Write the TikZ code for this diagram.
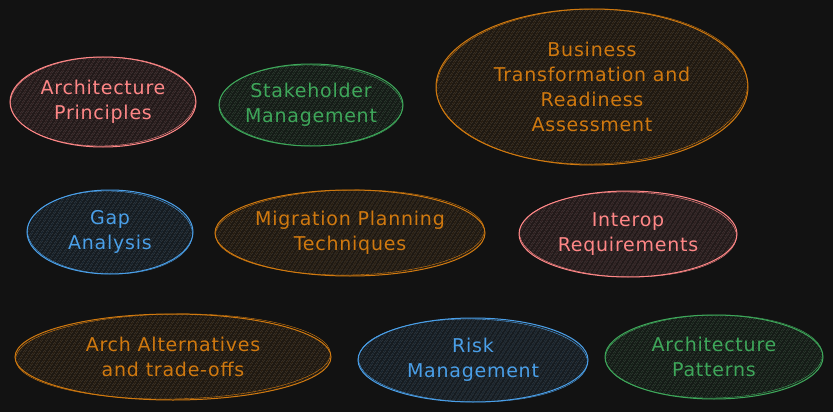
\documentclass[tikz,border=0pt]{standalone}
\usepackage{fontspec}
\setmainfont[LetterSpace=4]{DejaVu Sans}
\usetikzlibrary{patterns.meta}

\definecolor{bgdark}{HTML}{121212}
\definecolor{redline}{HTML}{FF8787}
\definecolor{greenline}{HTML}{3EA75A}
\definecolor{blueline}{HTML}{4A9FE8}
\definecolor{orangeline}{HTML}{D0790F}

\tikzset{
  bubble/.style={line width=1pt, draw=#1,
    preaction={fill=#1!7!bgdark},
    pattern={Lines[angle=58,distance=4pt,line width=0.6pt]}, pattern color=#1!22!bgdark},
  sketch/.style={line width=0.4pt, draw=#1},
  label/.style={text=#1, align=center, font=\fontsize{19}{25}\selectfont}
}

\begin{document}
\begin{tikzpicture}[x=1pt,y=-1pt]
    \fill[bgdark] (0,0) rectangle (833,412); % background
    \useasboundingbox (0,0) rectangle (833,412);
    % top row
    \draw[bubble=redline] (103,102) ellipse (93 and 45); % principles
    \draw[sketch=redline, rotate around={1:(103,102)}] (103,101.5) ellipse (92.5 and 44.5);
    \node[label=redline] (principles) at (103,102) {Architecture\\Principles};
    \draw[bubble=greenline] (311,105) ellipse (92 and 41); % stakeholders
    \draw[sketch=greenline, rotate around={-1:(311,105)}] (311,105.5) ellipse (91.5 and 40.5);
    \node[label=greenline] (stakeholder) at (311,105) {Stakeholder\\Management};
    \draw[bubble=orangeline] (592,87) ellipse (156 and 78); % business transformation
    \draw[sketch=orangeline, rotate around={1:(592,87)}] (592,86.5) ellipse (155.5 and 77.5);
    \node[label=orangeline] (business) at (592,87) {Business\\Transformation and\\Readiness\\Assessment};
    % middle row
    \draw[bubble=blueline] (110,232) ellipse (83 and 42); % gap analysis
    \draw[sketch=blueline, rotate around={-1.5:(110,232)}] (110,232.5) ellipse (82.5 and 41.5);
    \node[label=blueline] (gap) at (110,232) {Gap\\Analysis};
    \draw[bubble=orangeline] (350,233) ellipse (135 and 43); % migration
    \draw[sketch=orangeline, rotate around={1:(350,233)}] (350,232.5) ellipse (134.5 and 42.5);
    \node[label=orangeline] (migration) at (350,233) {Migration Planning\\Techniques};
    \draw[bubble=redline] (628,234) ellipse (109 and 43); % interop
    \draw[sketch=redline, rotate around={-1:(628,234)}] (628,234.5) ellipse (108.5 and 42.5);
    \node[label=redline] (interop) at (628,234) {Interop\\Requirements};
    % bottom row
    \draw[bubble=orangeline] (173,357) ellipse (158 and 43); % alternatives
    \draw[sketch=orangeline, rotate around={1:(173,357)}] (173,356.5) ellipse (157.5 and 42.5);
    \node[label=orangeline] (alternatives) at (173,357) {Arch Alternatives\\and trade-offs};
    \draw[bubble=blueline] (473,360) ellipse (115 and 42); % risk
    \draw[sketch=blueline, rotate around={-1:(473,360)}] (473,360.5) ellipse (114.5 and 41.5);
    \node[label=blueline] (risk) at (473,360) {Risk\\Management};
    \draw[bubble=greenline] (714,357) ellipse (109 and 42); % patterns
    \draw[sketch=greenline, rotate around={1:(714,357)}] (714,356.5) ellipse (108.5 and 41.5);
    \node[label=greenline] (patterns) at (714,357) {Architecture\\Patterns};
\end{tikzpicture}
\end{document}
